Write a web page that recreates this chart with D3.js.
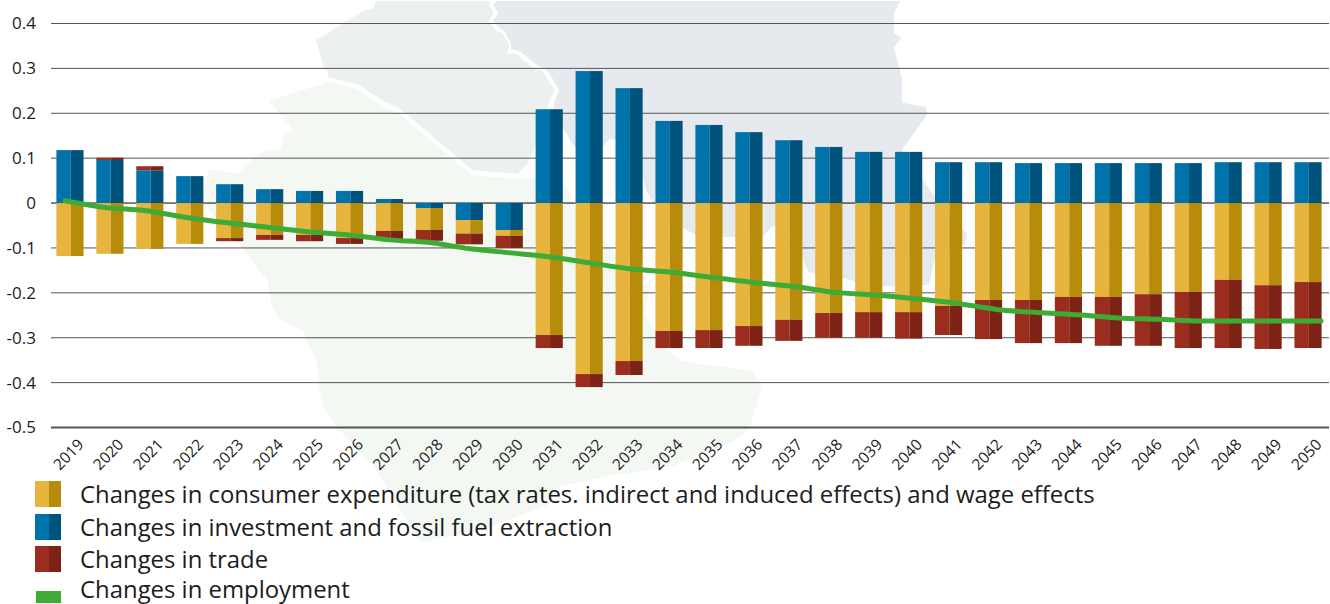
<!DOCTYPE html>
<html>
<head>
<meta charset="utf-8">
<script src="https://cdn.jsdelivr.net/npm/d3@7"></script>
<style>
  html, body { margin: 0; padding: 0; background: #fff; }
  text { font-family: "Open Sans", sans-serif; fill: #1c1c1c; }
</style>
</head>
<body>
<figure id="chart" style="margin:0"></figure>
<script>
const width = 1330;
const height = 604;

const years = d3.range(2019, 2051);
const yTicks = [0.4, 0.3, 0.2, 0.1, 0, -0.1, -0.2, -0.3, -0.4, -0.5];

const investment = [0.118, 0.096, 0.073, 0.06, 0.042, 0.031, 0.027, 0.027, 0.009, -0.011,
  -0.038, -0.06, 0.209, 0.294, 0.256, 0.183, 0.174, 0.158, 0.14, 0.125, 0.114, 0.114,
  0.091, 0.091, 0.089, 0.089, 0.089, 0.089, 0.089, 0.091, 0.091, 0.091];
const consumer = [-0.118, -0.113, -0.102, -0.091, -0.078, -0.071, -0.071, -0.078, -0.062, -0.049,
  -0.03, -0.013, -0.294, -0.381, -0.352, -0.285, -0.283, -0.274, -0.26, -0.245, -0.243, -0.243,
  -0.229, -0.216, -0.216, -0.209, -0.209, -0.203, -0.198, -0.171, -0.183, -0.176];
const trade = [0, 0.005, 0.009, 0, -0.007, -0.011, -0.014, -0.013, -0.018, -0.024,
  -0.024, -0.027, -0.029, -0.029, -0.031, -0.038, -0.04, -0.044, -0.047, -0.055, -0.057, -0.059,
  -0.065, -0.087, -0.096, -0.103, -0.109, -0.115, -0.125, -0.152, -0.142, -0.147];
const employment = [0.005, -0.01, -0.017, -0.032, -0.044, -0.054, -0.064, -0.071, -0.082, -0.088,
  -0.102, -0.111, -0.12, -0.134, -0.147, -0.154, -0.166, -0.177, -0.186, -0.199, -0.205, -0.213,
  -0.223, -0.237, -0.244, -0.249, -0.256, -0.259, -0.263, -0.263, -0.263, -0.263];

const legendLabels = [
  'Changes in consumer expenditure (tax rates. indirect and induced effects) and wage effects',
  'Changes in investment and fossil fuel extraction',
  'Changes in trade',
  'Changes in employment',
];

const seriesKeys = ['investment', 'consumer', 'trade'];
const colors = {
  investment: ['#0073aa', '#00537d'],
  consumer: ['#e7b53e', '#b78c0a'],
  trade: ['#9b2d1e', '#7c2315'],
};
const green = '#3dab35';

// backdrop map, just decoration behind the chart
const mapShapes = [
  { fill: '#f3f8f3', points: [[267,100],[292,130],[283,135],[280,148],[258,152],[238,173],[208,168],[203,190],[208,210],[222,228],[241,248],[256,268],[266,280],[270,303],[277,318],[302,332],[316,363],[318,388],[322,407],[338,430],[373,467],[390,495],[417,540],[423,543],[490,528],[550,505],[558,488],[607,477],[673,467],[733,443],[750,430],[763,387],[752,370],[681,360],[666,347],[645,313],[654,277],[645,283],[616,257],[609,243],[585,225],[570,192],[560,177],[518,178],[472,174],[400,113],[383,105],[357,88],[325,80],[322,83]] },
  { fill: '#ecf1ef', points: [[375,0],[373,7],[363,10],[315,40],[323,68],[327,72],[327,78],[357,85],[383,102],[400,110],[472,171],[518,175],[528,165],[535,150],[550,103],[556,90],[548,78],[543,70],[535,68],[517,53],[508,52],[512,45],[502,32],[497,30],[490,21],[495,13],[490,4],[492,0]] },
  { fill: '#e6e9ee', points: [[496,0],[492,5],[497,13],[492,21],[499,29],[504,32],[510,44],[510,50],[519,52],[538,67],[545,69],[551,78],[558,90],[553,103],[552,115],[565,133],[573,147],[590,152],[603,148],[610,140],[625,143],[640,170],[645,190],[652,203],[680,227],[697,237],[720,238],[745,238],[763,238],[773,227],[795,233],[802,260],[808,273],[847,280],[867,287],[890,287],[905,290],[930,285],[935,262],[950,250],[966,245],[968,233],[958,225],[945,205],[935,195],[903,150],[928,115],[927,106],[903,102],[903,78],[895,48],[903,37],[895,33],[895,13],[902,0]] },
];

const svg = d3.select('figure#chart')
  .append('svg')
  .attr('width', width)
  .attr('height', height)
  .style('display', 'block');

const x = d3.scaleBand()
  .domain(years)
  .range([50, 1328])
  .paddingInner(0.32)
  .paddingOuter(0.16);

const y = d3.scaleLinear()
  .domain([-0.5, 0.4])
  .range([427.5, 23.5]);

// the green line runs a bit wider than the bars
const xLine = d3.scalePoint()
  .domain(years)
  .range([65, 1321]);

svg.append('g')
  .selectAll('polygon')
  .data(mapShapes)
  .join('polygon')
  .attr('points', (d) => d.points.join(' '))
  .attr('fill', (d) => d.fill)
  .attr('stroke', '#fff')
  .attr('stroke-width', 2);

// gridlines and y labels
const yAxis = d3.axisLeft(y)
  .tickValues(yTicks)
  .tickSize(0)
  .tickPadding(0)
  .tickFormat((d) => (d === 0 ? '0' : d.toFixed(1)));

const gy = svg.append('g')
  .attr('transform', 'translate(36,0)')
  .call(yAxis)
  .call((g) => g.select('.domain').remove());

gy.selectAll('text')
  .style('font-size', '17px')
  .attr('x', 0)
  .attr('dy', '0.32em');

svg.append('g')
  .selectAll('line')
  .data(yTicks)
  .join('line')
  .attr('x1', 51)
  .attr('x2', 1329)
  .attr('y1', (d) => y(d))
  .attr('y2', (d) => y(d))
  .attr('stroke', (d) => (d === 0 ? '#000' : '#555'))
  .attr('stroke-width', (d) => (d === -0.5 ? 2 : 1));

// stacked bars, investment sits next to zero
const rows = years.map((year, i) => ({
  year,
  investment: investment[i],
  consumer: consumer[i],
  trade: trade[i],
}));

const stacked = d3.stack()
  .keys(seriesKeys)
  .offset(d3.stackOffsetDiverging)(rows);

const lightShare = 0.53;

const groups = svg.append('g')
  .selectAll('g')
  .data(stacked)
  .join('g');

[0, 1].forEach((side) => {
  groups.selectAll('rect.side' + side)
    .data((s) => s.map((d) => ({ key: s.key, seg: d, year: d.data.year })))
    .join('rect')
    .attr('class', 'side' + side)
    .attr('x', (d) => x(d.year) + (side ? x.bandwidth() * lightShare : 0))
    .attr('width', x.bandwidth() * (side ? 1 - lightShare : lightShare))
    .attr('y', (d) => y(Math.max(d.seg[0], d.seg[1])))
    .attr('height', (d) => Math.abs(y(d.seg[0]) - y(d.seg[1])))
    .attr('fill', (d) => colors[d.key][side]);
});

// employment line
const line = d3.line()
  .x((d, i) => xLine(years[i]))
  .y((d) => y(d))
  .curve(d3.curveMonotoneX);

svg.append('path')
  .datum(employment)
  .attr('d', line)
  .attr('fill', 'none')
  .attr('stroke', green)
  .attr('stroke-width', 5)
  .attr('stroke-linecap', 'round');

// x labels
const xAxis = d3.axisBottom(x).tickSize(0).tickFormat(d3.format('d'));

const gx = svg.append('g')
  .attr('transform', 'translate(0,427.5)')
  .call(xAxis)
  .call((g) => g.select('.domain').remove());

gx.selectAll('text')
  .style('font-size', '15.5px')
  .attr('text-anchor', 'end')
  .attr('dy', '0.32em')
  .attr('y', 0)
  .attr('transform', 'translate(11,14.5) rotate(-46)');

// legend
const legendY = d3.scaleOrdinal()
  .domain(legendLabels)
  .range([494, 527, 559, 589.5]);

const legend = svg.append('g')
  .selectAll('g')
  .data(legendLabels)
  .join('g')
  .attr('transform', (d) => `translate(0,${legendY(d)})`);

legend.append('text')
  .attr('x', 80)
  .attr('dy', '0.36em')
  .style('font-size', '23.9px')
  .text((d) => d);

['consumer', 'investment', 'trade'].forEach((key, i) => {
  const g = d3.select(legend.nodes()[i]);
  g.append('rect').attr('x', 35).attr('y', -13).attr('width', 14).attr('height', 26).attr('fill', colors[key][0]);
  g.append('rect').attr('x', 49).attr('y', -13).attr('width', 12).attr('height', 26).attr('fill', colors[key][1]);
});

d3.select(legend.nodes()[3])
  .append('rect')
  .attr('x', 36)
  .attr('y', 1.5)
  .attr('width', 25)
  .attr('height', 12)
  .attr('fill', green);
</script>
</body>
</html>
